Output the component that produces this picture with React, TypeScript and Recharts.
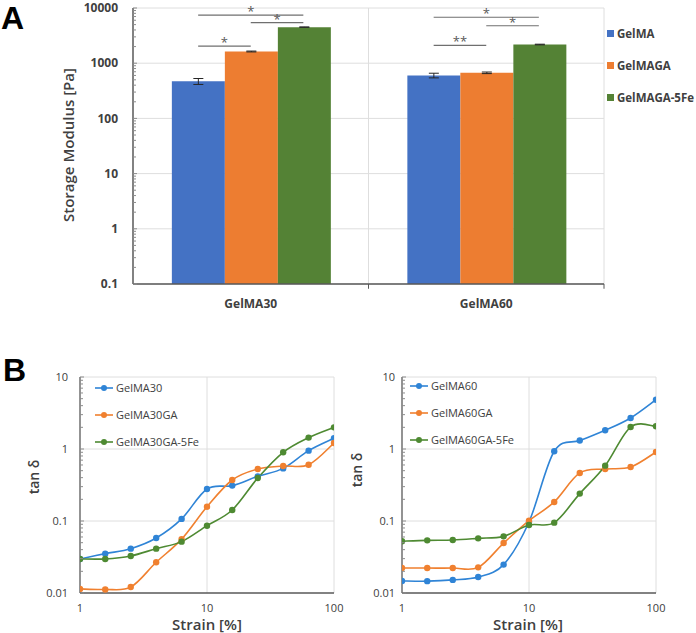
import React from "react";
import {
  Bar,
  BarChart,
  CartesianGrid,
  ErrorBar,
  Legend,
  Line,
  LineChart,
  ReferenceLine,
  XAxis,
  YAxis,
} from "recharts";

const FONT = "'Open Sans', 'Noto Sans', sans-serif";
const TEXT = "#404040";
const AXIS = "#595959";
const GRID = "#dedede";

// ---- panel A: storage modulus ----
const groups = ["GelMA30", "GelMA60"];
const barNames = ["GelMA", "GelMAGA", "GelMAGA-5Fe"];
const barColors = ["#4472C4", "#ED7D31", "#548235"];
const modGelMA = [470, 600];
const modGelMAErr = [58, 58];
const modGelMAGA = [1630, 670];
const modGelMAGAErr = [30, 22];
const modGelMAGA5Fe = [4500, 2180];
const modGelMAGA5FeErr = [40, 30];
const modTicks = [0.1, 1, 10, 100, 1000, 10000];

// significance brackets: group, bar from, bar to, height [Pa], mark
const sigGroup = [0, 0, 0, 1, 1, 1];
const sigFrom = [0, 0, 1, 0, 0, 1];
const sigTo = [1, 2, 2, 1, 2, 2];
const sigHeight = [2040, 7400, 5450, 2100, 6800, 4770];
const sigMark = ["*", "*", "*", "**", "*", "*"];

// ---- panel B: tan delta vs strain ----
const strain = [1, 1.58, 2.51, 3.98, 6.31, 10, 15.8, 25.1, 39.8, 63.1, 100];
const strainTicks = [1, 10, 100];
const tanTicks = [0.01, 0.1, 1, 10];
const lineColors = ["#2F84D6", "#F0802F", "#4E8A32"];

const names30 = ["GelMA30", "GelMA30GA", "GelMA30GA-5Fe"];
const gelma30 = [0.0297, 0.0352, 0.0413, 0.058, 0.107, 0.278, 0.31, 0.417, 0.538, 0.948, 1.41];
const gelma30ga = [0.0114, 0.0112, 0.0121, 0.0267, 0.056, 0.158, 0.371, 0.527, 0.58, 0.605, 1.21];
const gelma30ga5fe = [0.0297, 0.0297, 0.0327, 0.0413, 0.0517, 0.0861, 0.142, 0.395, 0.9, 1.44, 2.0];

const names60 = ["GelMA60", "GelMA60GA", "GelMA60GA-5Fe"];
const gelma60 = [0.0147, 0.0146, 0.0152, 0.0167, 0.0248, 0.097, 0.93, 1.31, 1.82, 2.7, 4.84];
const gelma60ga = [0.0222, 0.0222, 0.0222, 0.0227, 0.0494, 0.101, 0.184, 0.465, 0.527, 0.562, 0.908];
const gelma60ga5fe = [0.0523, 0.0539, 0.0544, 0.0574, 0.0612, 0.0879, 0.0948, 0.24, 0.587, 2.02, 2.07];

const BAR_GAP = 0.165;
const BAR_FRAC = (1 - 2 * BAR_GAP) / 3;
const barCenter = (g: number, k: number) => g + 0.5 + (k - 1) * BAR_FRAC;

const minorTicks = (decades: number[]) => {
  const out: number[] = [];
  decades.forEach((d, i) => {
    if (i === decades.length - 1) out.push(d);
    else for (let m = 1; m < 10; m++) out.push(Number((d * m).toPrecision(3)));
  });
  return out;
};

// Excel-like smoothed line (Catmull-Rom through the points)
const smoothCurve = (context: any) => {
  let pts: number[][] = [];
  return {
    areaStart() {},
    areaEnd() {},
    lineStart() {
      pts = [];
    },
    point(x: number, y: number) {
      pts.push([+x, +y]);
    },
    lineEnd() {
      if (!pts.length) return;
      context.moveTo(pts[0][0], pts[0][1]);
      for (let i = 0; i < pts.length - 1; i++) {
        const p0 = pts[i - 1] || pts[i];
        const p1 = pts[i];
        const p2 = pts[i + 1];
        const p3 = pts[i + 2] || p2;
        context.bezierCurveTo(
          p1[0] + (p2[0] - p0[0]) / 6,
          p1[1] + (p2[1] - p0[1]) / 6,
          p2[0] - (p3[0] - p1[0]) / 6,
          p2[1] - (p3[1] - p1[1]) / 6,
          p2[0],
          p2[1]
        );
      }
    },
  };
};

function LogTick(props: any) {
  const { x, y, payload, gap, fontSize, fontWeight, color } = props;
  const v = Number(payload.value);
  const lg = Math.log10(v);
  const major = Math.abs(lg - Math.round(lg)) < 1e-6;
  const axisX = x + gap;
  return (
    <g>
      <line x1={axisX} x2={axisX + (major ? 4 : 3)} y1={y} y2={y} stroke="#8c8c8c" strokeWidth={1} />
      {major && (
        <text
          x={x}
          y={y}
          dy="0.35em"
          textAnchor="end"
          fontSize={fontSize}
          fontWeight={fontWeight}
          fill={color}
          fontFamily={FONT}
        >
          {v}
        </text>
      )}
    </g>
  );
}

function BarLegend(props: any) {
  const { payload } = props;
  return (
    <div style={{ fontFamily: FONT, fontSize: 11.5, fontWeight: 700, color: TEXT, whiteSpace: "nowrap" }}>
      {payload.map((entry: any) => (
        <div key={entry.value} style={{ height: 32, display: "flex", alignItems: "center" }}>
          <span style={{ width: 7, height: 7, background: entry.color, marginRight: 3 }} />
          <span>{entry.value}</span>
        </div>
      ))}
    </div>
  );
}

function LineLegend(props: any) {
  const { payload } = props;
  return (
    <div style={{ fontFamily: FONT, fontSize: 11, color: TEXT, whiteSpace: "nowrap" }}>
      {payload.map((entry: any) => (
        <div key={entry.value} style={{ height: 27, display: "flex", alignItems: "center" }}>
          <svg width={18} height={8}>
            <line x1={0} x2={18} y1={4} y2={4} stroke={entry.color} strokeWidth={1.6} />
            <circle cx={9} cy={4} r={3} fill={entry.color} />
          </svg>
          <span style={{ marginLeft: 3 }}>{entry.value}</span>
        </div>
      ))}
    </div>
  );
}

function ModulusChart() {
  const data = groups.map((g, i) => ({
    group: g,
    idx: i,
    gelma: modGelMA[i],
    gelmaErr: modGelMAErr[i],
    gelmaga: modGelMAGA[i],
    gelmagaErr: modGelMAGAErr[i],
    gelmaga5fe: modGelMAGA5Fe[i],
    gelmaga5feErr: modGelMAGA5FeErr[i],
  }));
  const keys = ["gelma", "gelmaga", "gelmaga5fe"];

  return (
    <BarChart
      width={696}
      height={320}
      data={data}
      margin={{ top: 8, right: 92, bottom: 6, left: 73 }}
      barGap={0}
      barCategoryGap={`${BAR_GAP * 100}%`}
    >
      <CartesianGrid stroke={GRID} vertical={false} horizontalValues={modTicks} />
      <XAxis
        dataKey="group"
        height={30}
        tickLine={false}
        tickMargin={9}
        axisLine={{ stroke: AXIS, strokeWidth: 1.5 }}
        tick={{ fontSize: 12, fontWeight: 700, fill: TEXT, fontFamily: FONT }}
      />
      <XAxis xAxisId="pos" dataKey="idx" type="number" domain={[0, 2]} allowDataOverflow hide />
      <YAxis
        type="number"
        scale="log"
        domain={[0.1, 10000]}
        allowDataOverflow
        ticks={minorTicks(modTicks)}
        interval={0}
        width={60}
        tickSize={0}
        tickMargin={15}
        tickLine={false}
        axisLine={{ stroke: AXIS, strokeWidth: 1.5 }}
        tick={<LogTick gap={15} fontSize={12} fontWeight={700} color={TEXT} />}
      />
      <ReferenceLine xAxisId="pos" x={1} stroke={GRID} />
      <ReferenceLine xAxisId="pos" x={2} stroke={GRID} />
      {[1, 2].map((b) => (
        <ReferenceLine
          key={`t${b}`}
          xAxisId="pos"
          segment={[
            { x: b, y: 0.1 },
            { x: b, y: 0.082 },
          ]}
          stroke={AXIS}
          ifOverflow="visible"
        />
      ))}
      {keys.map((k, i) => (
        <Bar key={k} dataKey={k} name={barNames[i]} fill={barColors[i]} isAnimationActive={false}>
          <ErrorBar dataKey={`${k}Err`} width={5} stroke="#262626" strokeWidth={1} direction="y" />
        </Bar>
      ))}
      {sigMark.map((m, i) => (
        <ReferenceLine
          key={`s${i}`}
          xAxisId="pos"
          segment={[
            { x: barCenter(sigGroup[i], sigFrom[i]), y: sigHeight[i] },
            { x: barCenter(sigGroup[i], sigTo[i]), y: sigHeight[i] },
          ]}
          stroke="#6f6f6f"
          strokeWidth={1.2}
          ifOverflow="visible"
          label={{ value: m, position: "top", offset: -1, fill: "#595959", fontSize: 13, fontFamily: FONT }}
        />
      ))}
      <Legend
        layout="vertical"
        align="center"
        verticalAlign="middle"
        wrapperStyle={{ left: 607, top: 17, width: 89 }}
        content={<BarLegend />}
      />
    </BarChart>
  );
}

type TanProps = {
  names: string[];
  values: number[][];
  width: number;
  margin: { top: number; right: number; bottom: number; left: number };
  yAxisWidth: number;
  tickGap: number;
  legendLeft: number;
  legendTop: number;
};

function TanDeltaChart({ names, values, width, margin, yAxisWidth, tickGap, legendLeft, legendTop }: TanProps) {
  const data = strain.map((s, i) => ({
    strain: s,
    s0: values[0][i],
    s1: values[1][i],
    s2: values[2][i],
  }));
  return (
    <LineChart width={width} height={273} data={data} margin={margin}>
      <CartesianGrid stroke={GRID} horizontalValues={[0.1, 1, 10]} verticalValues={[10, 100]} />
      <XAxis
        dataKey="strain"
        type="number"
        scale="log"
        domain={[1, 100]}
        allowDataOverflow
        ticks={strainTicks}
        height={20}
        tickLine={false}
        tickSize={0}
        tickMargin={11}
        axisLine={{ stroke: AXIS, strokeWidth: 1.3 }}
        tick={{ fontSize: 11, fill: TEXT, fontFamily: FONT }}
      />
      <YAxis
        type="number"
        scale="log"
        domain={[0.01, 10]}
        allowDataOverflow
        ticks={minorTicks(tanTicks)}
        interval={0}
        width={yAxisWidth}
        tickSize={0}
        tickMargin={tickGap}
        tickLine={false}
        axisLine={{ stroke: AXIS, strokeWidth: 1.3 }}
        tick={<LogTick gap={tickGap} fontSize={11} fontWeight={400} color={TEXT} />}
      />
      {names.map((n, k) => (
        <Line
          key={n}
          dataKey={`s${k}`}
          name={n}
          type={smoothCurve as any}
          stroke={lineColors[k]}
          strokeWidth={1.6}
          dot={{ r: 3.2, fill: lineColors[k], stroke: lineColors[k], strokeWidth: 0 }}
          activeDot={false}
          isAnimationActive={false}
        />
      ))}
      <Legend
        layout="vertical"
        align="center"
        verticalAlign="middle"
        wrapperStyle={{ left: legendLeft, top: legendTop, width: 130 }}
        content={<LineLegend />}
      />
    </LineChart>
  );
}

const abs = (left: number, top: number): React.CSSProperties => ({ position: "absolute", left, top });

const rotatedTitle = (text: string, cx: number, cy: number, size: number) => (
  <div
    style={{
      position: "absolute",
      left: cx,
      top: cy,
      transform: "translate(-50%, -50%) rotate(-90deg)",
      whiteSpace: "nowrap",
      fontFamily: FONT,
      fontSize: size,
      fontWeight: 600,
      color: TEXT,
    }}
  >
    {text}
  </div>
);

const centeredTitle = (text: string, cx: number, cy: number) => (
  <div
    style={{
      position: "absolute",
      left: cx,
      top: cy,
      transform: "translate(-50%, -50%)",
      whiteSpace: "nowrap",
      fontFamily: FONT,
      fontSize: 15,
      lineHeight: "16px",
      fontWeight: 600,
      color: TEXT,
    }}
  >
    {text}
  </div>
);

const panelLabel = (text: string, left: number, top: number) => (
  <div
    style={{
      position: "absolute",
      left,
      top,
      fontFamily: "'Liberation Sans', Arial, sans-serif",
      fontWeight: 700,
      fontSize: 32,
      lineHeight: "32px",
      color: "#000",
    }}
  >
    {text}
  </div>
);

export default function App() {
  return (
    <div style={{ position: "relative", width: 696, height: 633, background: "#fff", overflow: "hidden" }}>
      <style>{"body{margin:0}"}</style>
      <div style={abs(0, 0)}>
        <ModulusChart />
      </div>
      {rotatedTitle("Storage Modulus [Pa]", 68, 145, 15)}
      <div style={abs(0, 360)}>
        <TanDeltaChart
          names={names30}
          values={[gelma30, gelma30ga, gelma30ga5fe]}
          width={345}
          margin={{ top: 17, right: 11, bottom: 20, left: 30 }}
          yAxisWidth={50}
          tickGap={12}
          legendLeft={95}
          legendTop={14}
        />
      </div>
      <div style={abs(345, 360)}>
        <TanDeltaChart
          names={names60}
          values={[gelma60, gelma60ga, gelma60ga5fe]}
          width={351}
          margin={{ top: 17, right: 40, bottom: 20, left: 17 }}
          yAxisWidth={40}
          tickGap={7}
          legendLeft={65}
          legendTop={12}
        />
      </div>
      {rotatedTitle("tan δ", 33, 477, 14)}
      {rotatedTitle("tan δ", 356, 470, 14)}
      {centeredTitle("Strain [%]", 207, 624)}
      {centeredTitle("Strain [%]", 528, 624)}
      {panelLabel("A", 1, 2)}
      {panelLabel("B", 3, 354)}
    </div>
  );
}
